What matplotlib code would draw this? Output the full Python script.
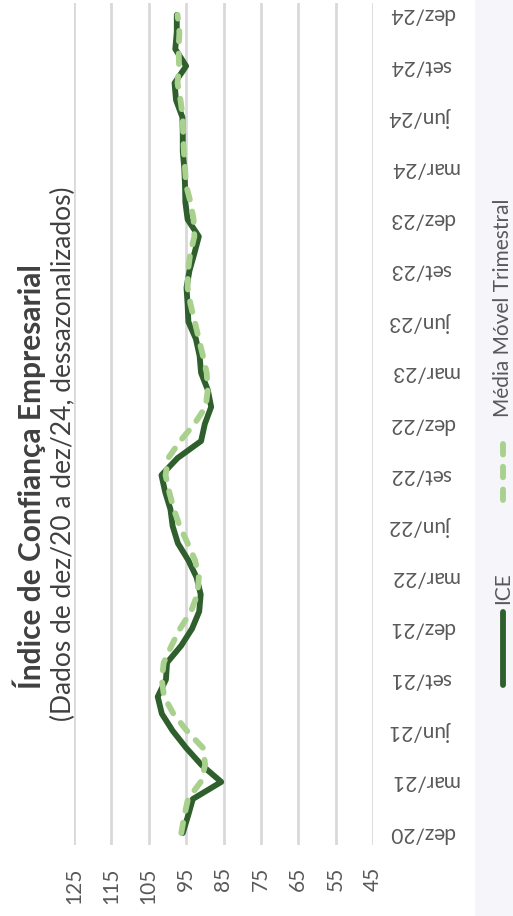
import numpy as np
import matplotlib.pyplot as plt
from matplotlib.lines import Line2D
from matplotlib.patches import Rectangle

plt.rcParams['font.family'] = ['Lato', 'DejaVu Sans']

# Rótulos do eixo de categorias (trimestral) e do eixo de valores
meses = ['dez/20', 'mar/21', 'jun/21', 'set/21', 'dez/21', 'mar/22', 'jun/22', 'set/22',
         'dez/22', 'mar/23', 'jun/23', 'set/23', 'dez/23', 'mar/24', 'jun/24', 'set/24', 'dez/24']
valores_eixo = [125, 115, 105, 95, 85, 75, 65, 55, 45]

# Índice de Confiança Empresarial, mensal dez/20 a dez/24
ice = [95.9, 94.5, 93.2, 85.6, 90.9, 95.0, 98.6, 101.5, 102.6, 100.4, 100.1, 96.3,
       93.4, 91.5, 91.1, 92.2, 94.4, 97.2, 98.6, 99.2, 100.6, 101.6, 97.3, 91.0,
       90.0, 88.3, 89.2, 91.0, 91.4, 92.4, 94.4, 94.6, 94.9, 94.1, 92.8, 91.6,
       94.6, 95.2, 95.3, 95.5, 95.9, 95.9, 96.0, 97.7, 98.1, 95.0, 97.9, 97.5, 97.5]

# Média móvel trimestral
media_movel = [96.3, 95.5, 94.5, 91.1, 89.9, 90.5, 94.8, 98.4, 100.9, 101.5, 101.0, 98.9,
               96.6, 93.7, 92.0, 91.6, 92.6, 94.6, 96.7, 98.3, 99.5, 100.5, 99.8, 96.6,
               92.8, 89.8, 89.2, 89.5, 90.5, 91.6, 92.7, 93.8, 94.6, 94.5, 93.9, 92.8,
               93.0, 93.8, 95.0, 95.3, 95.6, 95.8, 95.9, 96.5, 97.3, 96.9, 97.0, 96.8, 97.3]

cor_ice = '#2f5f2c'
cor_mm = '#a9d18e'
cor_texto = '#595959'

idx = np.arange(len(ice))

W, H = 513, 916
fig = plt.figure(figsize=(W / 100, H / 100), dpi=100)

# faixa clara na lateral direita
fig.add_artist(Rectangle((475 / W, 0), 38 / W, 1, transform=fig.transFigure,
                         facecolor='#f5f5fa', edgecolor='none', zorder=-5))

ax = fig.add_axes([74 / W, 71 / H, 299 / W, 842 / H])
ax.set_xlim(125, 45)
ax.set_ylim(-0.7, 48.7)

ax.plot(ice, idx, color=cor_ice, lw=4.2, solid_capstyle='round', solid_joinstyle='round')
ax.plot(media_movel, idx, color=cor_mm, lw=4.2, dashes=(1.8, 2.1), dash_capstyle='round')

ax.set_xticks(valores_eixo)
ax.grid(axis='x', color='#d9d9d9', lw=2)
ax.set_axisbelow(True)
for s in ax.spines.values():
    s.set_visible(False)

ax.tick_params(axis='x', labelrotation=90, length=0, pad=16, labelsize=15, labelcolor=cor_texto)
ax.yaxis.tick_right()
ax.set_yticks(range(0, len(ice), 3))
ax.set_yticklabels(meses, rotation=180)
ax.tick_params(axis='y', length=0, pad=12, labelsize=15, labelcolor=cor_texto)
for lab in ax.get_yticklabels():
    lab.set_va('center')

# títulos (gráfico girado)
fig.text(29 / W, 1 - 477 / H, 'Índice de Confiança Empresarial', rotation=90,
         ha='center', va='center', fontsize=21.5, fontweight='bold', color='#404040')
fig.text(63 / W, 1 - 454 / H, '(Dados de dez/20 a dez/24, dessazonalizados)', rotation=90,
         ha='center', va='center', fontsize=19, color='#404040')

# legenda
fig.add_artist(Line2D([503 / W] * 2, [1 - 685 / H, 1 - 612 / H], transform=fig.transFigure,
                      color=cor_ice, lw=4.2, solid_capstyle='round'))
fig.text(503 / W, 1 - 588 / H, 'ICE', rotation=90, ha='center', va='center',
         fontsize=15, color=cor_texto)
fig.add_artist(Line2D([503 / W] * 2, [1 - 500 / H, 1 - 435 / H], transform=fig.transFigure,
                      color=cor_mm, lw=4.2, dashes=(1.8, 2.1), dash_capstyle='round'))
fig.text(503 / W, 1 - 308 / H, 'Média Móvel Trimestral', rotation=90, ha='center', va='center',
         fontsize=15, color=cor_texto)

fig.savefig('out.png', dpi=100)
